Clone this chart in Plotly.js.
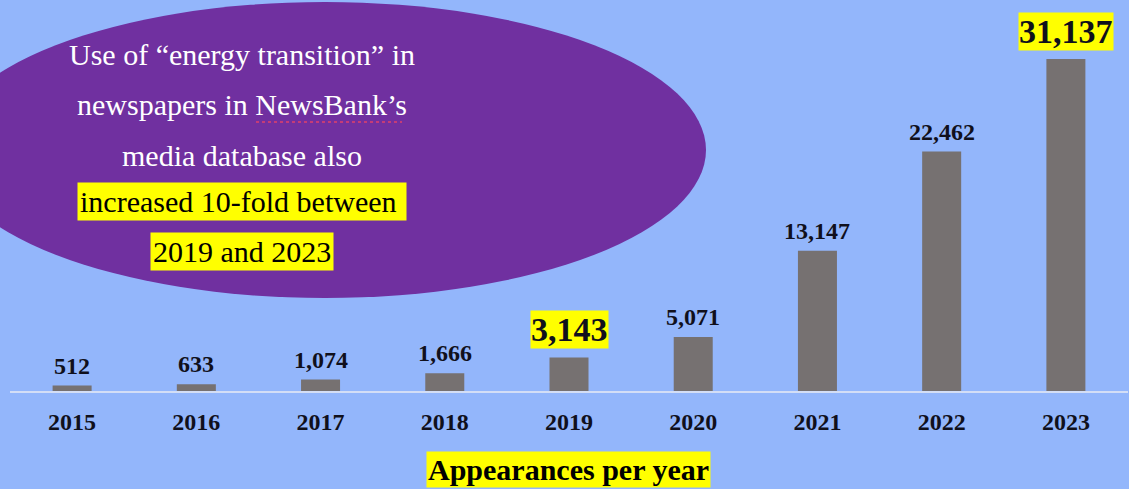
<!DOCTYPE html>
<html>
<head>
<meta charset="utf-8">
<script src="https://cdn.plot.ly/plotly-3.0.1.min.js"></script>
<style>
  html, body { margin: 0; padding: 0; background: #93b6fb; }
  #chart { width: 1129px; height: 489px; }
</style>
</head>
<body>
<div id="chart"></div>
<script>
// ---- Data ----
const years = ['2015', '2016', '2017', '2018', '2019', '2020', '2021', '2022', '2023'];
const appearances = [512, 633, 1074, 1666, 3143, 5071, 13147, 22462, 31137];
const highlightedYears = ['2019', '2023'];

const calloutLines = [
  'Use of “energy transition” in',
  'newspapers in NewsBank’s',
  'media database also',
  'increased 10-fold between ',
  '2019 and 2023'
];
const calloutHighlighted = [false, false, false, true, true];
const axisTitle = 'Appearances per year';

// ---- Layout helpers (pixel -> paper) ----
const W = 1129, H = 489;
const M = { l: 10, r: 1, t: 0, b: 98 };
const PW = W - M.l - M.r, PH = H - M.t - M.b;
const px = x => (x - M.l) / PW;
const py = y => (H - M.b - y) / PH;

const serif = 'Liberation Serif, Times New Roman, serif';
const bg = '#93b6fb';

const trace = {
  type: 'bar',
  x: years,
  y: appearances,
  marker: { color: '#767171' },
  hoverinfo: 'skip'
};

const annotations = [];

// value labels on bars
years.forEach((yr, i) => {
  const hi = highlightedYears.includes(yr);
  annotations.push({
    x: i, y: appearances[i], xref: 'x', yref: 'y',
    text: appearances[i].toLocaleString('en-US'),
    showarrow: false, xanchor: 'center', yanchor: 'bottom',
    yshift: hi ? 8 : 5,
    font: { family: serif, size: hi ? 34 : 24, color: '#10101c', weight: 'bold' },
    bgcolor: hi ? '#ffff00' : 'rgba(0,0,0,0)',
    borderpad: hi ? 0 : 1
  });
});

// callout text inside ellipse
const lineCenters = [55, 105, 155, 201, 251];
calloutLines.forEach((t, i) => {
  const hi = calloutHighlighted[i];
  annotations.push({
    x: px(242), y: py(lineCenters[i]), xref: 'paper', yref: 'paper',
    text: t, showarrow: false, xanchor: 'center', yanchor: 'middle',
    font: { family: serif, size: 30, color: hi ? '#000000' : '#ffffff' },
    bgcolor: hi ? '#ffff00' : 'rgba(0,0,0,0)',
    borderpad: 2
  });
});

// bottom title with yellow highlight
annotations.push({
  x: px(568), y: py(451), xref: 'paper', yref: 'paper',
  text: axisTitle, showarrow: false, xanchor: 'center', yanchor: 'top',
  font: { family: serif, size: 30, color: '#000000', weight: 'bold' },
  bgcolor: '#ffff00', borderpad: 1
});

const layout = {
  width: W, height: H,
  margin: M,
  paper_bgcolor: bg,
  plot_bgcolor: bg,
  showlegend: false,
  bargap: 0.686,
  xaxis: {
    type: 'category',
    range: [-0.5, 8.5],
    showgrid: false, zeroline: false,
    showline: true, linecolor: '#d3def6', linewidth: 2,
    ticks: '', ticklabelstandoff: 8,
    tickfont: { family: serif, size: 24, color: '#10101c', weight: 'bold' },
    fixedrange: true
  },
  yaxis: {
    range: [0, 36670],
    showticklabels: false, ticks: '', showline: false,
    showgrid: false, zeroline: false,
    fixedrange: true
  },
  shapes: [
    {
      type: 'circle', xref: 'paper', yref: 'paper', layer: 'above',
      x0: px(-56), x1: px(706), y0: py(298), y1: py(2),
      fillcolor: '#7030a0', line: { width: 0 }
    },
    {
      type: 'line', xref: 'paper', yref: 'paper', layer: 'above',
      x0: px(256), x1: px(402), y0: py(122), y1: py(122),
      line: { color: '#e0406a', width: 1.5, dash: 'dot' }
    }
  ],
  annotations: annotations
};

Plotly.newPlot('chart', [trace], layout, { displayModeBar: false, staticPlot: true });
</script>
</body>
</html>
